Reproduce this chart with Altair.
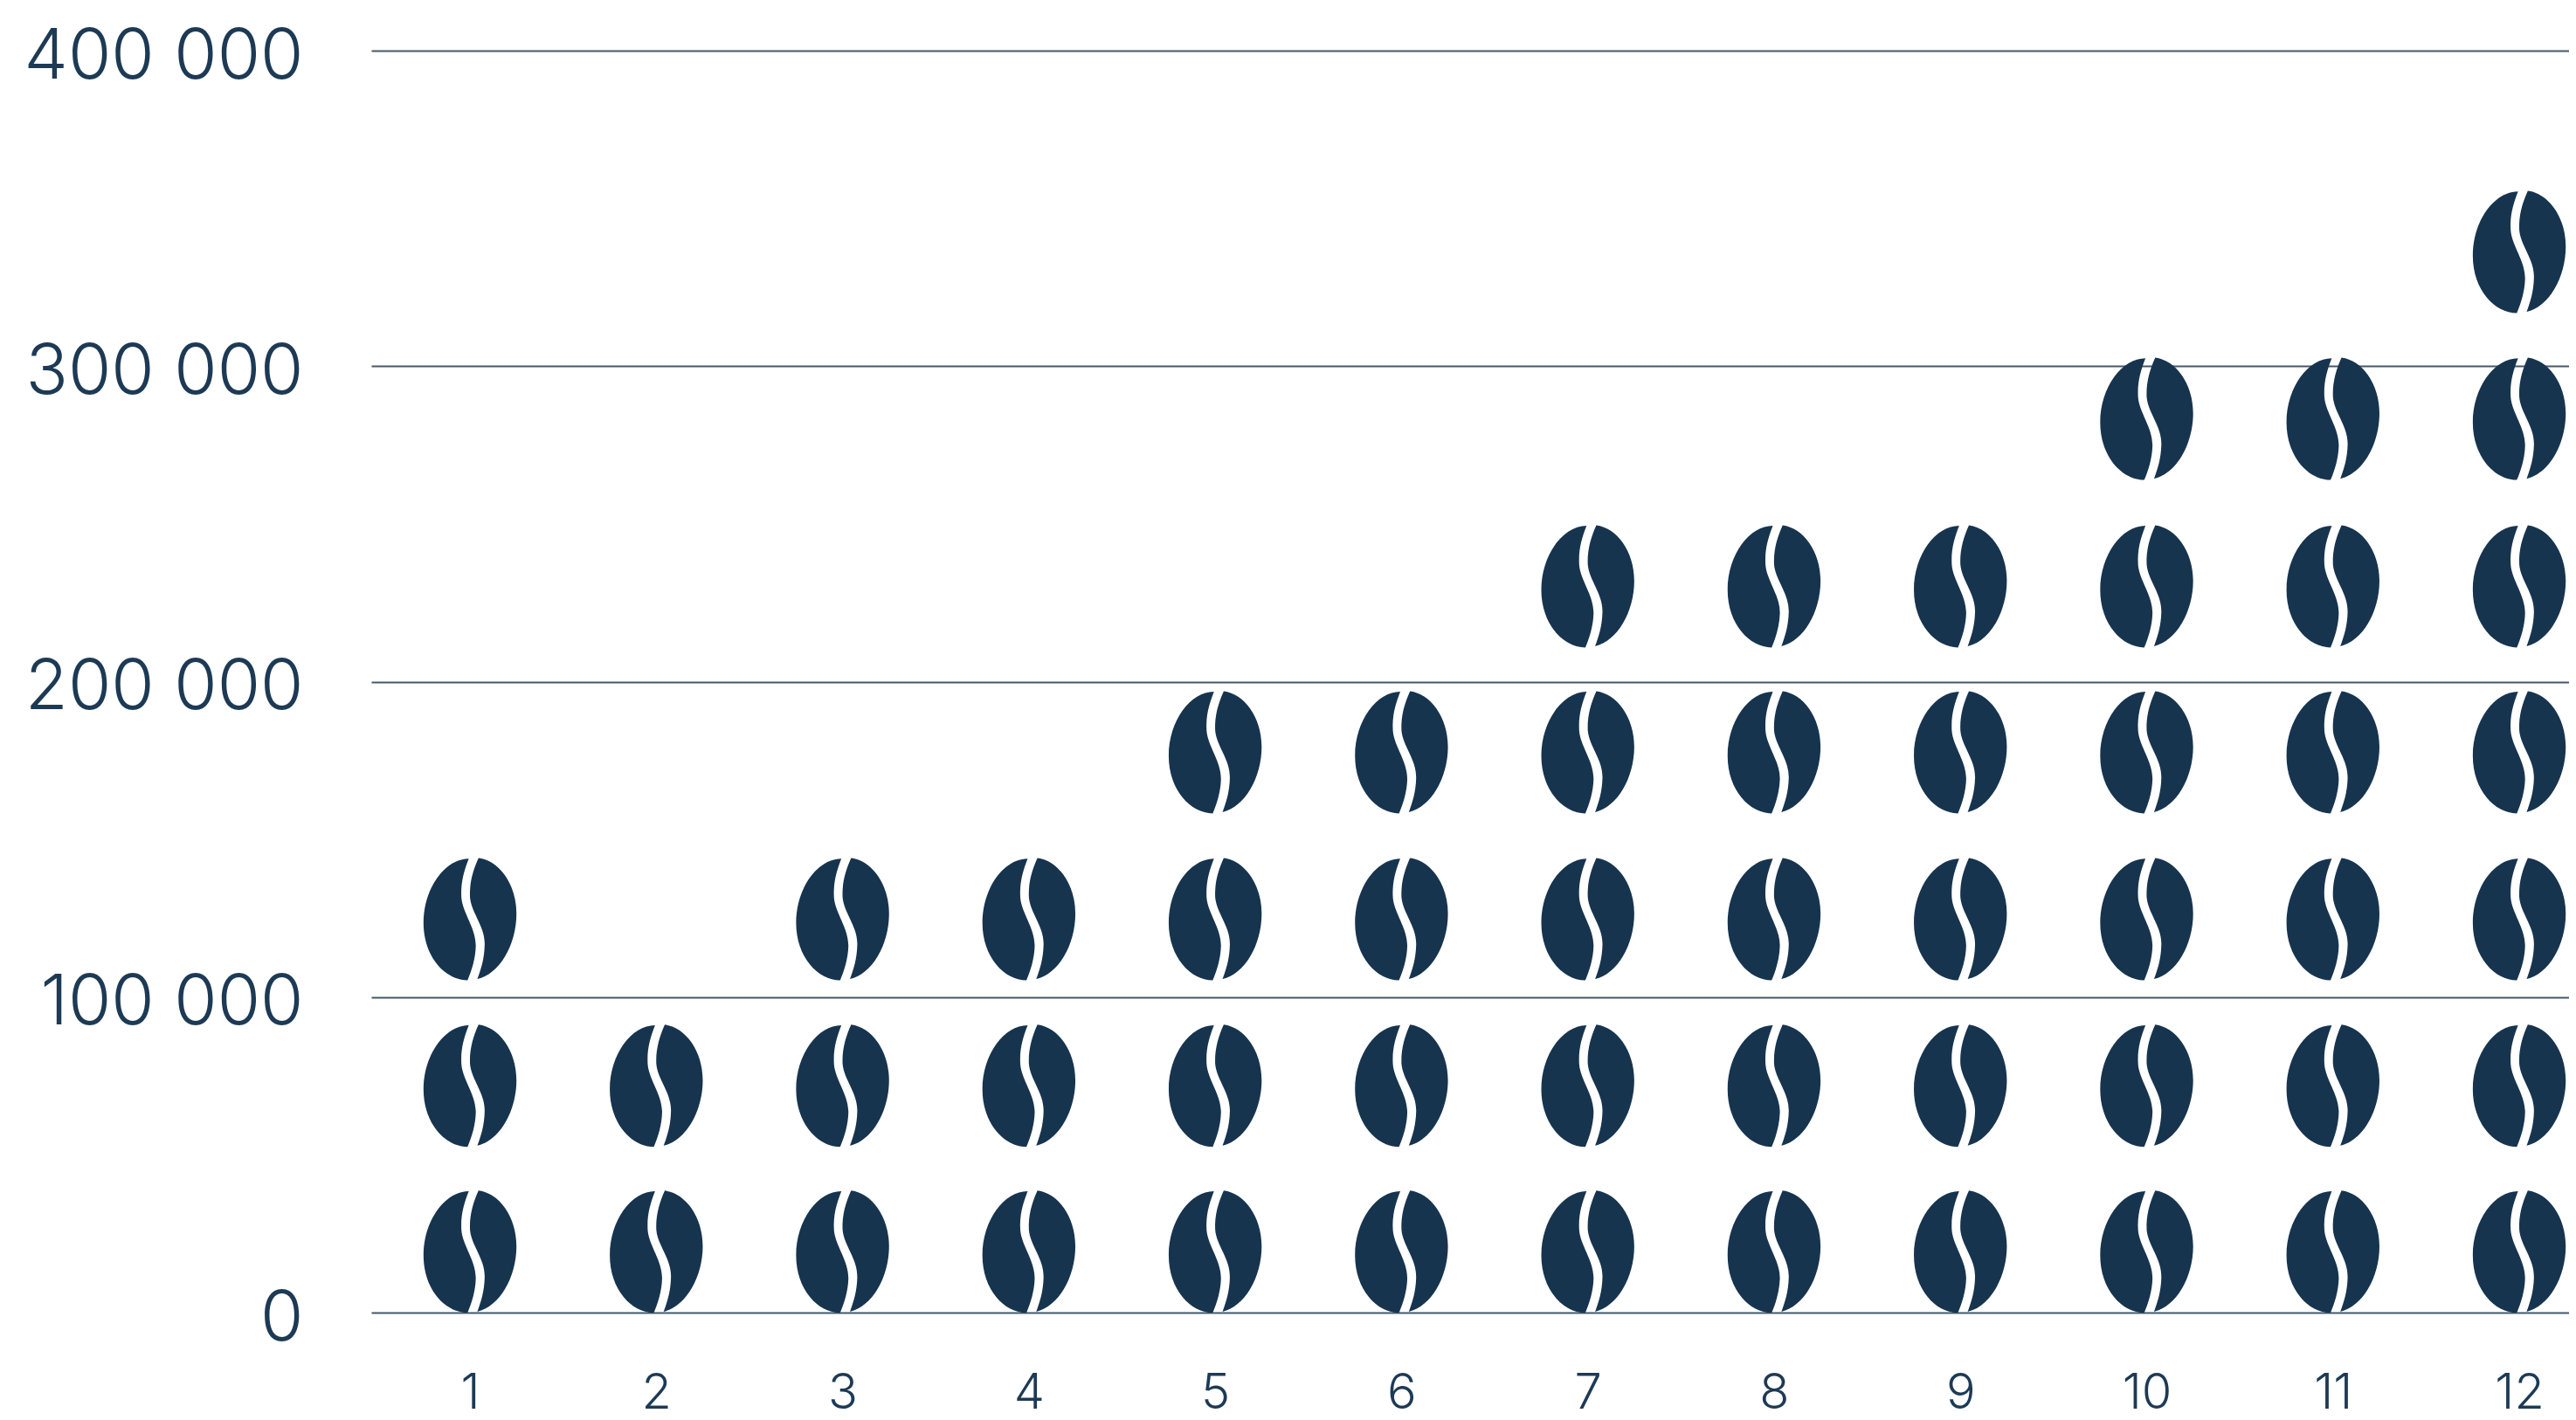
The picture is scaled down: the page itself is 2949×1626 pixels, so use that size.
import altair as alt
import pandas as pd

months = [1, 2, 3, 4, 5, 6, 7, 8, 9, 10, 11, 12]
bean_counts = [3, 2, 3, 3, 4, 4, 5, 5, 5, 6, 6, 7]
bean_levels = [19300, 71900, 124700, 177600, 230200, 283300, 336200]
y_ticks = [0, 100000, 200000, 300000, 400000]

BEAN = (
    "M-0.02 -0.99 C-0.10 -0.78 -0.155 -0.6 -0.14 -0.35 "
    "C-0.12 -0.1 0.10 0.15 0.095 0.44 C0.09 0.64 0.03 0.84 -0.04 1.0 "
    "C-0.40 1.0 -0.76 0.62 -0.76 0.06 C-0.76 -0.52 -0.40 -0.99 -0.02 -0.99 Z "
    "M0.14 -1.0 C0.05 -0.8 -0.01 -0.6 0.0 -0.36 "
    "C0.02 -0.1 0.25 0.12 0.24 0.42 C0.235 0.65 0.18 0.82 0.12 0.98 "
    "C0.48 0.9 0.76 0.42 0.76 -0.09 C0.76 -0.58 0.47 -0.96 0.14 -1.0 Z"
)

rows = [
    {"month": m, "level": bean_levels[i]}
    for m, c in zip(months, bean_counts)
    for i in range(c)
]
df = pd.DataFrame(rows)

FONT = "Inter"
INK = "#1d3a55"
BEAN_COLOR = "#17344f"
LINE = "#44586a"

chart = (
    alt.Chart(df)
    .mark_point(shape=BEAN, size=19600, filled=True, color=BEAN_COLOR, opacity=1, strokeWidth=0)
    .encode(
        x=alt.X(
            "month:Q",
            scale=alt.Scale(domain=[0.47, 12.267], nice=False, zero=False),
            axis=alt.Axis(
                values=months, title=None, grid=False, domain=False, ticks=False,
                labelFont=FONT, labelFontSize=56, labelFontWeight=300, labelColor=INK,
                labelPadding=65, format="d", labelFlush=False, labelOverlap=False,
            ),
        ),
        y=alt.Y(
            "level:Q",
            scale=alt.Scale(domain=[0, 400000], nice=False),
            axis=alt.Axis(
                values=y_ticks, title=None, grid=True, gridColor=LINE, gridWidth=2,
                domain=False, ticks=False, labelFont=FONT, labelFontSize=80,
                labelFontWeight=300, labelColor=INK, labelPadding=78, labelLimit=500,
                labelOffset=7, labelOverlap=False, labelFlush=False,
                labelExpr="replace(format(datum.value, ','), ',', ' ')",
            ),
        ),
    )
    .properties(
        width=2516,
        height=1445,
        autosize=alt.AutoSizeParams(type="none"),
        padding={"left": 417, "top": 50, "right": 0, "bottom": 123},
        background="white",
    )
    .configure_view(stroke=None)
)

chart.save("out.html", embed_options={"renderer": "svg", "actions": False})
